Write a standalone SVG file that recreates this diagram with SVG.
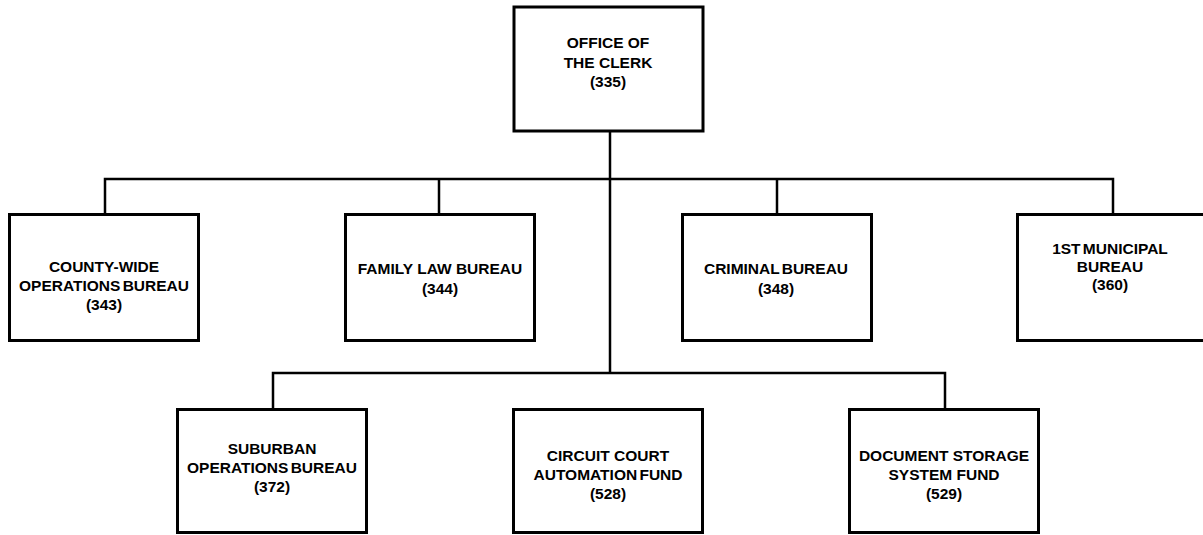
<svg xmlns="http://www.w3.org/2000/svg" width="1203" height="535" viewBox="0 0 1203 535">
<style>
.box{fill:#fff;stroke:#000;stroke-width:3}
.ln{fill:none;stroke:#000;stroke-width:2.5}
.t{font-family:"Liberation Sans",Arial,sans-serif;font-weight:bold;font-size:15.5px;fill:#000;text-anchor:middle}
.ws{word-spacing:-2px}
</style>
<rect width="1203" height="535" fill="#fff"/>
<g id="connectors">
<path class="ln" d="M610 131 V373"/>
<path class="ln" d="M105 214 V179 H1113 V214"/>
<path class="ln" d="M439 179 V214"/>
<path class="ln" d="M777 179 V214"/>
<path class="ln" d="M273 409 V373 H945 V409"/>
</g>
<g id="office-clerk">
<rect class="box" x="514" y="7" width="189" height="124"/>
<text class="t" x="608" y="48">OFFICE OF</text>
<text class="t" x="608" y="68">THE CLERK</text>
<text class="t" x="608" y="87">(335)</text>
</g>
<g id="county-wide">
<rect class="box" x="9.5" y="214.5" width="189" height="126"/>
<text class="t" x="104" y="272">COUNTY-WIDE</text>
<text class="t ws" x="104" y="291">OPERATIONS BUREAU</text>
<text class="t" x="104" y="310">(343)</text>
</g>
<g id="family-law">
<rect class="box" x="345.5" y="214.5" width="189" height="126"/>
<text class="t" x="440" y="274">FAMILY LAW BUREAU</text>
<text class="t" x="440" y="294">(344)</text>
</g>
<g id="criminal">
<rect class="box" x="682.5" y="214.5" width="189" height="126"/>
<text class="t ws" x="776" y="274">CRIMINAL BUREAU</text>
<text class="t" x="776" y="294">(348)</text>
</g>
<g id="municipal">
<rect class="box" x="1017.5" y="214.5" width="189" height="126"/>
<text class="t ws" x="1110" y="254">1ST MUNICIPAL</text>
<text class="t" x="1110" y="272">BUREAU</text>
<text class="t" x="1110" y="290">(360)</text>
</g>
<g id="suburban">
<rect class="box" x="177.5" y="409.5" width="189" height="123"/>
<text class="t" x="272" y="454">SUBURBAN</text>
<text class="t ws" x="272" y="473">OPERATIONS BUREAU</text>
<text class="t" x="272" y="492">(372)</text>
</g>
<g id="circuit-court">
<rect class="box" x="513.5" y="409.5" width="189" height="123"/>
<text class="t" x="608" y="461">CIRCUIT COURT</text>
<text class="t ws" x="608" y="480">AUTOMATION FUND</text>
<text class="t" x="608" y="499">(528)</text>
</g>
<g id="document-storage">
<rect class="box" x="849.5" y="409.5" width="189" height="123"/>
<text class="t" x="944" y="461">DOCUMENT STORAGE</text>
<text class="t" x="944" y="480">SYSTEM FUND</text>
<text class="t" x="944" y="499">(529)</text>
</g>
</svg>
